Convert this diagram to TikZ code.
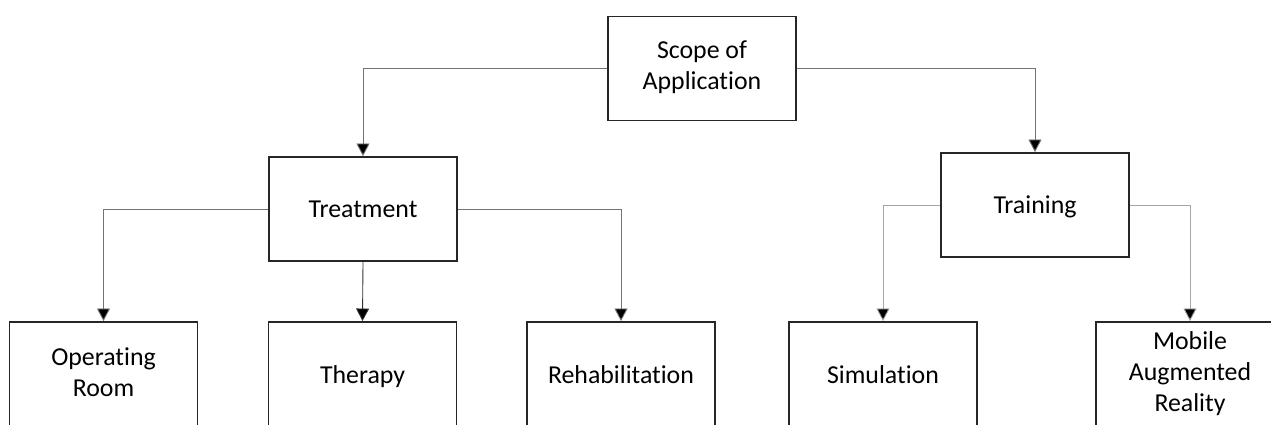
\documentclass[tikz,border=0pt]{standalone}
\usepackage{fontspec}
\setmainfont[Ligatures=CommonOff]{Carlito}
\usetikzlibrary{arrows.meta}
\tikzset{every picture/.style={line width=0.5pt}}
\newcommand{\boxstrut}{\rule[-4.2pt]{0pt}{17.6pt}}
\begin{document}
\begin{tikzpicture}[x=1cm,y=1cm,
  box/.style={draw=black!85,line width=1.1pt,minimum width=3.76cm,minimum height=2.08cm,
    align=center,font=\fontsize{14.7}{17.6}\selectfont,inner sep=0pt,
    execute at begin node=\boxstrut,execute at end node=\boxstrut},
  leaf/.style={box,minimum height=2.14cm},
  link/.style={draw=black!55,-{Triangle[width=0.26cm,length=0.25cm,fill=black]}}]
\useasboundingbox (0,0) rectangle (25.42,8.48);
\node[box] (scope) at (14.04,7.11) {Scope of\\Application};
\node[box] (treat) at (7.26,4.30) {Treatment};
\node[box] (train) at (20.70,4.38) {Training};
\node[leaf] (oproom) at (2.07,0.97) {Operating\\Room};
\node[leaf] (therapy) at (7.25,0.97) {Therapy};
\node[leaf] (rehab) at (12.42,0.97) {Rehabilitation};
\node[leaf] (sim) at (17.66,0.97) {Simulation};
\node[leaf] (mobile) at (23.80,0.97) {Mobile\\Augmented\\Reality};
\draw[link] (scope.west) -| (treat.north);
\draw[link] (scope.east) -| (train.north);
\draw[link] (treat.west) -| (oproom.north);
\draw[link,draw=black!80] (treat.south) -- (therapy.north);
\draw[link] (treat.east) -| (rehab.north);
\draw[link,draw=black!35] (train.west) -| (sim.north);
\draw[link,draw=black!35] (train.east) -| (mobile.north);
\end{tikzpicture}
\end{document}
